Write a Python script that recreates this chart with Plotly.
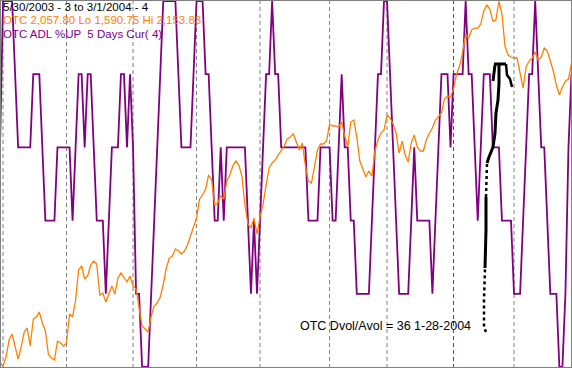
import pandas as pd
import plotly.graph_objects as go

W, H = 572, 368

# ---------------- data ----------------
holidays = ["2003-07-04", "2003-09-01", "2003-11-27", "2003-12-25",
            "2004-01-01", "2004-01-19", "2004-02-16"]
dates = [d for d in pd.bdate_range("2003-05-30", "2004-03-01")
         if d.strftime("%Y-%m-%d") not in holidays]

otc_close = [
    1595.9, 1590.8, 1604.6, 1630.8, 1640.1, 1621.6, 1601.5, 1620.0, 1643.2, 1649.3,
    1621.6, 1663.2, 1666.3, 1674.0, 1657.1, 1644.7, 1609.2, 1603.1, 1600.0, 1629.3,
    1626.2, 1621.6, 1626.2, 1670.9, 1666.3, 1692.5, 1738.8, 1745.0, 1724.9, 1729.6,
    1746.5, 1752.7, 1748.1, 1700.2, 1703.3, 1689.4, 1703.3, 1714.1, 1701.8, 1726.5,
    1734.2, 1728.0, 1720.3, 1729.6, 1714.1, 1709.5, 1677.1, 1652.4, 1647.8, 1643.2,
    1667.8, 1683.3, 1687.9, 1697.2, 1717.2, 1741.9, 1757.3, 1760.4, 1771.2, 1768.1,
    1763.5, 1768.1, 1777.4, 1791.3, 1802.1, 1819.0, 1848.3, 1854.5, 1863.8, 1885.4,
    1877.7, 1839.1, 1842.2, 1853.0, 1848.3, 1876.1, 1885.4, 1899.3, 1907.0, 1900.8,
    1883.8, 1839.1, 1809.8, 1803.6, 1819.0, 1794.4, 1820.6, 1840.6, 1869.9, 1896.2,
    1903.9, 1908.5, 1916.2, 1922.4, 1930.1, 1940.9, 1944.0, 1948.6, 1936.3, 1923.9,
    1934.7, 1899.3, 1876.1, 1873.0, 1897.7, 1923.9, 1933.2, 1933.2, 1937.8, 1964.0,
    1961.0, 1961.0, 1959.4, 1967.1, 1945.5, 1928.6, 1967.1, 1970.2, 1944.0, 1907.0,
    1894.6, 1882.3, 1891.5, 1883.8, 1922.4, 1939.4, 1950.2, 1954.8, 1977.9, 1973.3,
    1964.0, 1950.2, 1919.3, 1937.8, 1916.2, 1905.4, 1934.7, 1947.1, 1928.6, 1922.4,
    1922.4, 1939.4, 1950.2, 1957.9, 1970.2, 1974.8, 1981.0, 2002.6, 2007.2, 2005.7,
    2018.0, 2041.2, 2053.5, 2075.1, 2102.9, 2096.7, 2109.1, 2112.1, 2112.1, 2118.3,
    2138.4, 2147.6, 2141.5, 2122.9, 2124.5, 2153.8, 2133.7, 2084.4, 2070.5, 2067.4,
    2065.9, 2065.9, 2039.6, 2019.6, 2052.0, 2061.2, 2065.9, 2075.1, 2062.8, 2067.4,
    2081.3, 2076.7, 2061.2, 2045.8, 2024.2, 2008.8, 2021.1, 2030.4, 2033.5, 2057.8,
]

adl_up5 = [
    3, 5, 5, 5, 5, 4, 3, 3, 3, 3,
    3, 4, 4, 4, 3, 2, 2, 2, 2, 3,
    3, 3, 3, 3, 2, 3, 4, 4, 3, 4,
    4, 3, 2, 2, 2, 1, 2, 3, 3, 3,
    4, 4, 3, 4, 3, 1, 1, 0, 0, 0,
    1, 2, 3, 4, 5, 5, 5, 5, 5, 4,
    3, 3, 3, 3, 4, 5, 5, 5, 4, 4,
    3, 2, 2, 3, 2, 3, 3, 3, 3, 3,
    3, 3, 2, 1, 2, 1, 2, 3, 4, 4,
    5, 4, 4, 3, 3, 3, 3, 3, 3, 3,
    3, 3, 2, 2, 2, 2, 3, 3, 3, 3,
    2, 2, 3, 4, 3, 3, 2, 2, 1, 1,
    1, 1, 1, 2, 3, 4, 4, 5, 5, 4,
    3, 2, 1, 1, 1, 1, 2, 3, 2, 2,
    2, 2, 2, 1, 2, 3, 4, 4, 4, 3,
    4, 4, 4, 4, 5, 4, 4, 3, 2, 3,
    4, 4, 4, 3, 3, 3, 2, 2, 2, 2,
    1, 1, 1, 2, 3, 4, 4, 5, 4, 3,
    3, 2, 1, 1, 1, 0, 0, 1, 3, 4,
]

header_lines = ["5/30/2003 - 3 to 3/1/2004 - 4",
                "OTC 2,057.80 Lo 1,590.75 Hi 2,153.83",
                "OTC ADL %UP  5 Days Cur( 4)"]
note_text = "OTC Dvol/Avol = 36 1-28-2004"

# ---------------- figure ----------------
idx = list(range(len(dates)))
PURPLE = "#800080"
ORANGE = "#ff8000"

fig = go.Figure()
fig.add_trace(go.Scatter(x=idx, y=adl_up5, mode="lines",
                         line=dict(color=PURPLE, width=1.8), yaxis="y",
                         hoverinfo="skip", showlegend=False))
fig.add_trace(go.Scatter(x=idx, y=otc_close, mode="lines",
                         line=dict(color=ORANGE, width=1.3), yaxis="y2",
                         hoverinfo="skip", showlegend=False))

shapes = []
# month separators
for i in range(1, len(dates)):
    if dates[i].month != dates[i - 1].month:
        col = "#ff0000" if dates[i].year != dates[i - 1].year else "#808080"
        shapes.append(dict(type="line", xref="x", yref="paper", x0=i, x1=i,
                           y0=0, y1=1, layer="below",
                           line=dict(color=col, width=1, dash="4px,3px")))

def P(x, y):
    return x / W, 1 - y / H

def path(pts):
    s = ""
    for k, (x, y) in enumerate(pts):
        px, py = P(x, y)
        s += ("M" if k == 0 else " L") + f"{px:.5f},{py:.5f}"
    return s

# hand drawn arrow
strokes = [
    ([(486, 332), (484, 327), (484, 300), (485, 268)], "dot", 2.5),
    ([(485, 268), (486, 230), (486, 197)], "solid", 3),
    ([(486, 197), (487, 163)], "dot", 2.5),
    ([(487, 163), (489, 157), (493, 147), (495, 133), (496, 113), (498, 100),
      (499, 83), (499, 64)], "solid", 3),
    ([(494, 64), (506, 64)], "solid", 3),
    ([(495, 65), (493, 81)], "solid", 3),
    ([(506, 64), (507, 75), (510, 79), (512, 87)], "solid", 2.5),
]
for pts, dash, w in strokes:
    shapes.append(dict(type="path", xref="paper", yref="paper", path=path(pts),
                       line=dict(color="black", width=w, dash=dash)))

# frame
shapes.append(dict(type="rect", xref="paper", yref="paper", x0=0, x1=1, y0=0, y1=1,
                   line=dict(color="#808080", width=2)))

FONT = "Liberation Sans, Arial, sans-serif"
annotations = []
for k, (txt, col) in enumerate(zip(header_lines, ["black", ORANGE, PURPLE])):
    annotations.append(dict(text=txt, xref="paper", yref="paper",
                            x=1 / W, y=1 - (7 + 13.3 * k) / H,
                            xanchor="left", yanchor="middle", showarrow=False,
                            font=dict(family=FONT, size=11.5, color=col)))
annotations.append(dict(text=note_text, xref="paper", yref="paper",
                        x=298 / W, y=1 - 326 / H, xanchor="left", yanchor="middle",
                        showarrow=False, font=dict(family=FONT, size=12.5, color="black")))

fig.update_layout(
    width=W, height=H, margin=dict(l=0, r=0, t=0, b=0),
    paper_bgcolor="white", plot_bgcolor="white",
    xaxis=dict(visible=False, range=[0, W / 3.0237]),
    yaxis=dict(visible=False, range=[-1 / 73.2, 5 + 1 / 73.2]),
    yaxis2=dict(visible=False, overlaying="y",
                range=[1590.75 - 2 * 1.5427, 2153.83 + 1.5427]),
    shapes=shapes, annotations=annotations,
)

fig.write_html("out.html")
